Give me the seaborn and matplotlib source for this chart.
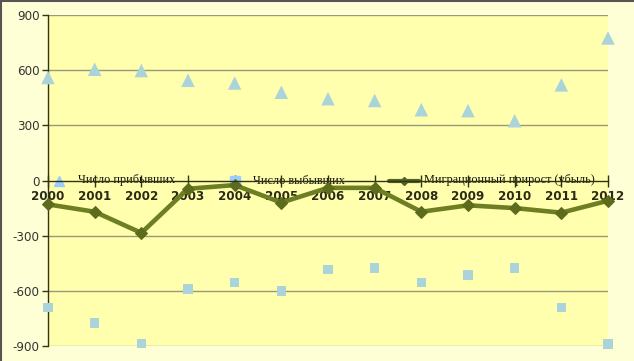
import matplotlib
matplotlib.use("Agg")
import matplotlib.pyplot as plt
import seaborn as sns
import pandas as pd
from matplotlib.lines import Line2D

years = list(range(2000, 2013))
arrived = [560, 605, 598, 545, 530, 480, 445, 435, 385, 380, 325, 520, 775]
departed = [-690, -775, -885, -590, -555, -600, -485, -475, -555, -515, -475, -690, -890]
net = [-130, -170, -285, -45, -25, -120, -40, -40, -170, -135, -150, -175, -110]
labels = ["Число прибывших", "Число выбывших", "Миграционный прирост (убыль)"]
yticks = [-900, -600, -300, 0, 300, 600, 900]

df = pd.DataFrame({"year": years, "arrived": arrived, "departed": departed, "net": net})

sns.set_theme(style="white")
plt.rcParams["font.family"] = ["DejaVu Sans"]

W, H = 634, 361
fig = plt.figure(figsize=(W / 100, H / 100), dpi=100, facecolor="#FFFFD6", edgecolor="none")
ax = fig.add_axes([48 / W, (H - 346) / H, (608 - 48) / W, (346 - 15) / H])
ax.set_facecolor("#FFFFAD")

# frame lines of chart area (top/left)
fig.add_artist(Line2D([0, 1], [1 - 1 / H, 1 - 1 / H], color="#555555", lw=1.5, transform=fig.transFigure))
fig.add_artist(Line2D([0.5 / W, 0.5 / W], [0, 1], color="#555555", lw=1.5, transform=fig.transFigure))

sns.lineplot(data=df, x="year", y="net", ax=ax, color="#6E7E22", lw=3.3, marker="D",
             markersize=6, markerfacecolor="#5C6B1C", markeredgecolor="#5C6B1C", zorder=4, clip_on=False)
sns.scatterplot(data=df, x="year", y="arrived", ax=ax, marker="^", s=95, color="#AAD4DA",
                edgecolor="none", zorder=4, clip_on=False)
sns.scatterplot(data=df, x="year", y="departed", ax=ax, marker="s", s=46, color="#AAD4DA",
                edgecolor="none", zorder=4, clip_on=False)

for s in ["top", "right"]:
    ax.spines[s].set_visible(False)
ax.spines["left"].set_color("#333311")
ax.spines["left"].set_linewidth(1.0)
ax.spines["bottom"].set_position(("data", 0))
ax.spines["bottom"].set_color("#333311")
ax.spines["bottom"].set_linewidth(1.0)
ax.spines["bottom"].set_zorder(6)

ax.set_xlim(2000, 2012)
ax.set_ylim(-900, 900)
ax.set_yticks(yticks)
ax.set_yticklabels([str(v) for v in yticks], fontsize=8.6, color="#333333")
ax.set_xticks(years)
ax.set_xticklabels([str(y) for y in years], fontsize=8.6, fontweight="bold", color="#2A2A15")
ax.set_xlabel("")
ax.set_ylabel("")
ax.tick_params(axis="y", direction="out", length=4, width=1, color="#333311", pad=2, left=True)
ax.tick_params(axis="x", direction="inout", length=9, width=1, color="#333311", pad=2.5, bottom=True)

for v in [-900, -600, -300, 300, 600, 900]:
    ax.axhline(v, color="#99997A", lw=1.0, zorder=0.5)

# legend drawn along the zero axis
def px2data(x):
    return 2000 + (x - 48) / (608 - 48) * 12

ax.plot([px2data(59)], [0], marker="^", ms=7, color="#99CCFF", ls="none", clip_on=False, zorder=3)
ax.text(px2data(78), 0, labels[0], fontsize=8.8, family="Liberation Serif", color="#111111",
        va="center", ha="left", zorder=3)
ax.plot([px2data(235)], [0], marker="s", ms=6.5, color="#99CCFF", ls="none", clip_on=False, zorder=3)
ax.text(px2data(253), 0, labels[1], fontsize=8.8, family="Liberation Serif", color="#111111",
        va="center", ha="left", zorder=3)
ax.plot([px2data(389), px2data(419)], [0, 0], color="#4F6228", lw=3.0, clip_on=False, zorder=3)
ax.plot([px2data(404)], [0], marker="D", ms=4.5, color="#4F6228", ls="none", clip_on=False, zorder=3)
ax.text(px2data(424), 0, labels[2], fontsize=8.8, family="Liberation Serif", color="#111111",
        va="center", ha="left", zorder=3)

fig.savefig("out.png", dpi=100, facecolor=fig.get_facecolor(), edgecolor="none")
